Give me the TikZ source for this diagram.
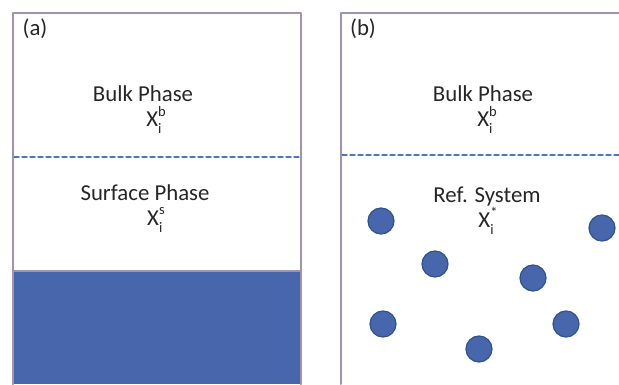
\documentclass[tikz,border=0pt]{standalone}
\usepackage{fontspec}
\setmainfont{Carlito}
\definecolor{phaseFrame}{RGB}{160,146,176}
\definecolor{phaseFill}{RGB}{72,102,172}
\definecolor{phaseDash}{RGB}{78,116,200}
\definecolor{phaseEdge}{RGB}{47,82,143}
\newcommand{\phaseX}[2]{X\rlap{\raisebox{-0.3em}{\fontsize{14.5}{14.5}\selectfont #1}}\raisebox{0.45em}{\fontsize{14.5}{14.5}\selectfont #2}}
\begin{document}
\begin{tikzpicture}[x=1pt, y=1pt]
% Surface phase vs. reference system, units are pixels of the figure
\def\txtsz{\fontsize{22.8}{26}\selectfont}
\def\partr{13}
\tikzset{
  frame/.style={draw=phaseFrame, line width=2pt},
  interface/.style={draw=phaseDash, line width=1.2pt, dash pattern=on 5pt off 3pt},
  phasetxt/.style={inner sep=0pt, font=\txtsz, text=black!85},
  particle/.style={fill=phaseFill, draw=phaseEdge, line width=1.2pt}
}
\useasboundingbox (0,0) rectangle (619,384);
\begin{scope}[line cap=round, line join=round]
  % Panel (a): solid below the surface phase
  \fill[phaseFill] (13,0) rectangle (301,113);
  \draw[frame] (13,0) -- (13,113) -- (301,113) -- (301,0);
  \draw[frame] (13,0) -- (13,371) -- (301,371) -- (301,0);
  \draw[interface] (14,227) -- (300,227);
  % Panel (b): reference system, cut at the right edge
  \draw[frame] (341,0) -- (341,371) -- (625,371);
  \draw[interface] (342,229) -- (619,229);
  % Particles of the reference system
  \foreach \px/\py in {381/163, 435/120, 602/156, 533/106, 383/60, 566/60, 479/35}
    \filldraw[particle] (\px,\py) circle (\partr);
\end{scope}
% Labels
\node[phasetxt] (lbla) at (35,355) {(a)};
\node[phasetxt] (bulka) at (143,290) {Bulk Phase};
\node[phasetxt] (xba) at (156,264) {\phaseX{i}{b}};
\node[phasetxt] (surfa) at (145,191) {Surface Phase};
\node[phasetxt] (xsa) at (156,164) {\phaseX{i}{s}};
\node[phasetxt] (lblb) at (363,355) {(b)};
\node[phasetxt] (bulkb) at (483,290) {Bulk Phase};
\node[phasetxt] (xbb) at (487,264) {\phaseX{i}{b}};
\node[phasetxt] (refb) at (487,187) {Ref. System};
\node[phasetxt] (xrb) at (488,163) {\phaseX{i}{*}};
\end{tikzpicture}
\end{document}
